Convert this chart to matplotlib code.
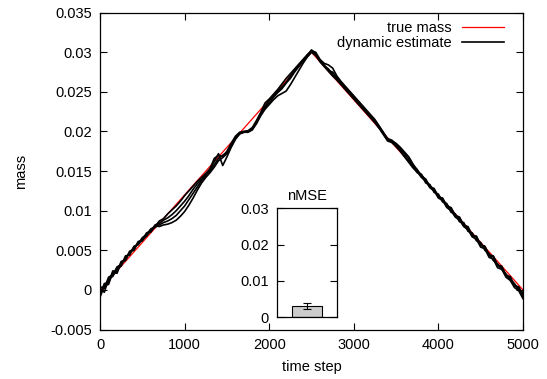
import matplotlib

matplotlib.use("Agg")
import matplotlib.pyplot as plt

plt.rcParams["font.family"] = ["Liberation Sans", "DejaVu Sans"]
plt.rcParams["font.size"] = 10.5

# true mass (piecewise linear)
true_t = [0, 2500, 5000]
true_mass = [0.0, 0.03, 0.0]

# dynamic estimates, sampled every 50 time steps
est_t = list(range(0, 5001, 50))
est_a = [
    0.0004, 0.0002, 0.0016, 0.0019, 0.0029, 0.0032, 0.0041, 0.0046, 0.0054, 0.0058,
    0.0066, 0.0070, 0.0077, 0.0080, 0.0087, 0.0090, 0.0096, 0.0101, 0.0106, 0.0112,
    0.0119, 0.0125, 0.0131, 0.0137, 0.0142, 0.0147, 0.0153, 0.0166, 0.0170, 0.0168,
    0.0175, 0.0185, 0.0194, 0.0199, 0.0200, 0.0201, 0.0205, 0.0214, 0.0224, 0.0236,
    0.0241, 0.0247, 0.0253, 0.0260, 0.0267, 0.0273, 0.0279, 0.0285, 0.0291, 0.0297,
    0.0302, 0.0300, 0.0291, 0.0286, 0.0284, 0.0280, 0.0270, 0.0263, 0.0257, 0.0251,
    0.0245, 0.0239, 0.0233, 0.0227, 0.0221, 0.0215, 0.0207, 0.0199, 0.0190, 0.0188,
    0.0185, 0.0180, 0.0174, 0.0168, 0.0159, 0.0151, 0.0145, 0.0139, 0.0131, 0.0127,
    0.0118, 0.0115, 0.0107, 0.0103, 0.0093, 0.0091, 0.0082, 0.0079, 0.0069, 0.0067,
    0.0057, 0.0055, 0.0044, 0.0043, 0.0031, 0.0030, 0.0018, 0.0017, 0.0005, 0.0004,
    -0.0006,
]
est_b = [
    -0.0006, 0.0008, 0.0009, 0.0024, 0.0023, 0.0036, 0.0038, 0.0049, 0.0051, 0.0061,
    0.0063, 0.0072, 0.0074, 0.0082, 0.0084, 0.0088, 0.0091, 0.0095, 0.0100, 0.0106,
    0.0112, 0.0119, 0.0127, 0.0134, 0.0140, 0.0146, 0.0150, 0.0158, 0.0166, 0.0170,
    0.0174, 0.0183, 0.0192, 0.0198, 0.0200, 0.0200, 0.0203, 0.0211, 0.0222, 0.0230,
    0.0236, 0.0243, 0.0249, 0.0254, 0.0261, 0.0267, 0.0275, 0.0282, 0.0289, 0.0295,
    0.0301, 0.0297, 0.0289, 0.0283, 0.0279, 0.0272, 0.0266, 0.0260, 0.0254, 0.0248,
    0.0242, 0.0237, 0.0231, 0.0225, 0.0219, 0.0212, 0.0205, 0.0197, 0.0189, 0.0187,
    0.0182, 0.0176, 0.0169, 0.0162, 0.0155, 0.0148, 0.0146, 0.0135, 0.0133, 0.0123,
    0.0121, 0.0111, 0.0109, 0.0098, 0.0096, 0.0086, 0.0085, 0.0074, 0.0072, 0.0062,
    0.0060, 0.0050, 0.0046, 0.0037, 0.0033, 0.0026, 0.0020, 0.0013, 0.0006, 0.0002,
    -0.0009,
]
est_c = [
    0.0001, -0.0003, 0.0014, 0.0017, 0.0027, 0.0030, 0.0043, 0.0044, 0.0055, 0.0057,
    0.0064, 0.0068, 0.0076, 0.0079, 0.0082, 0.0085, 0.0087, 0.0090, 0.0094, 0.0100,
    0.0106, 0.0114, 0.0122, 0.0130, 0.0138, 0.0144, 0.0152, 0.0162, 0.0172, 0.0157,
    0.0168, 0.0180, 0.0190, 0.0197, 0.0199, 0.0200, 0.0203, 0.0212, 0.0223, 0.0232,
    0.0239, 0.0245, 0.0251, 0.0256, 0.0262, 0.0270, 0.0277, 0.0284, 0.0290, 0.0296,
    0.0303, 0.0298, 0.0290, 0.0284, 0.0277, 0.0275, 0.0268, 0.0262, 0.0256, 0.0250,
    0.0244, 0.0238, 0.0232, 0.0226, 0.0220, 0.0213, 0.0206, 0.0198, 0.0191, 0.0189,
    0.0184, 0.0178, 0.0172, 0.0165, 0.0157, 0.0152, 0.0143, 0.0140, 0.0130, 0.0128,
    0.0117, 0.0116, 0.0105, 0.0104, 0.0094, 0.0092, 0.0081, 0.0080, 0.0068, 0.0068,
    0.0056, 0.0055, 0.0043, 0.0042, 0.0031, 0.0028, 0.0019, 0.0014, 0.0008, 0.0000,
    -0.0003,
]
est_d = [
    -0.0009, 0.0005, 0.0007, 0.0022, 0.0021, 0.0035, 0.0037, 0.0048, 0.0050, 0.0060,
    0.0062, 0.0071, 0.0073, 0.0081, 0.0080, 0.0082, 0.0083, 0.0085, 0.0088, 0.0093,
    0.0099, 0.0107, 0.0116, 0.0126, 0.0135, 0.0142, 0.0148, 0.0155, 0.0163, 0.0167,
    0.0172, 0.0181, 0.0191, 0.0197, 0.0199, 0.0199, 0.0202, 0.0210, 0.0220, 0.0228,
    0.0234, 0.0240, 0.0245, 0.0248, 0.0251, 0.0259, 0.0268, 0.0277, 0.0286, 0.0294,
    0.0300, 0.0296, 0.0288, 0.0282, 0.0276, 0.0270, 0.0265, 0.0259, 0.0253, 0.0247,
    0.0241, 0.0235, 0.0229, 0.0223, 0.0217, 0.0211, 0.0204, 0.0196, 0.0188, 0.0186,
    0.0181, 0.0175, 0.0168, 0.0161, 0.0154, 0.0149, 0.0142, 0.0137, 0.0129, 0.0125,
    0.0116, 0.0113, 0.0104, 0.0100, 0.0092, 0.0088, 0.0080, 0.0076, 0.0067, 0.0064,
    0.0054, 0.0052, 0.0041, 0.0039, 0.0028, 0.0026, 0.0016, 0.0012, 0.0003, -0.0001,
    -0.0011,
]
estimates = [est_a, est_b, est_c, est_d]

# inset: normalised mean squared error
nmse_value = 0.0031
nmse_err = 0.0007

fig = plt.figure(figsize=(5.47, 3.79), dpi=100)
ax = fig.add_axes([0.183, 0.1306, 0.773, 0.836])

ax.plot(true_t, true_mass, color="#ff0000", linewidth=0.9, label="true mass", zorder=1)
for i, est in enumerate(estimates):
    ax.plot(est_t, est, color="black", linewidth=1.2, zorder=2,
            label="dynamic estimate" if i == 0 else None)

ax.set_xlim(0, 5000)
ax.set_ylim(-0.005, 0.035)
ax.set_xticks([0, 1000, 2000, 3000, 4000, 5000])
ax.set_yticks([-0.005, 0, 0.005, 0.01, 0.015, 0.02, 0.025, 0.03, 0.035])
ax.set_yticklabels(["-0.005", "0", "0.005", "0.01", "0.015", "0.02", "0.025", "0.03", "0.035"])
ax.tick_params(direction="in", top=True, right=True, length=5, width=0.8, pad=6)
for s in ax.spines.values():
    s.set_linewidth(0.9)
ax.set_xlabel("time step", labelpad=6)
ax.set_ylabel("mass", labelpad=16)

ax.legend(loc="upper right", bbox_to_anchor=(0.976, 1.0), frameon=False, markerfirst=False,
          handlelength=2.9, handletextpad=0.7, labelspacing=0.05, borderaxespad=0.3,
          borderpad=0.3)

ins = fig.add_axes([0.507, 0.1628, 0.1086, 0.2876])
ins.bar([0], [nmse_value], width=1.0, color="#cccccc", edgecolor="black", linewidth=0.8)
ins.errorbar([0], [nmse_value], yerr=[nmse_err], color="black", capsize=3,
             elinewidth=0.8, capthick=0.8)
ins.set_xlim(-1, 1)
ins.set_ylim(0, 0.03)
ins.set_xticks([])
ins.set_yticks([0, 0.01, 0.02, 0.03])
ins.set_yticklabels(["0", "0.01", "0.02", "0.03"])
ins.tick_params(direction="in", right=True, length=5, width=0.8, pad=6)
for s in ins.spines.values():
    s.set_linewidth(0.9)
ins.set_title("nMSE", fontsize=10.5, pad=6)

fig.savefig("out.png", dpi=100)
